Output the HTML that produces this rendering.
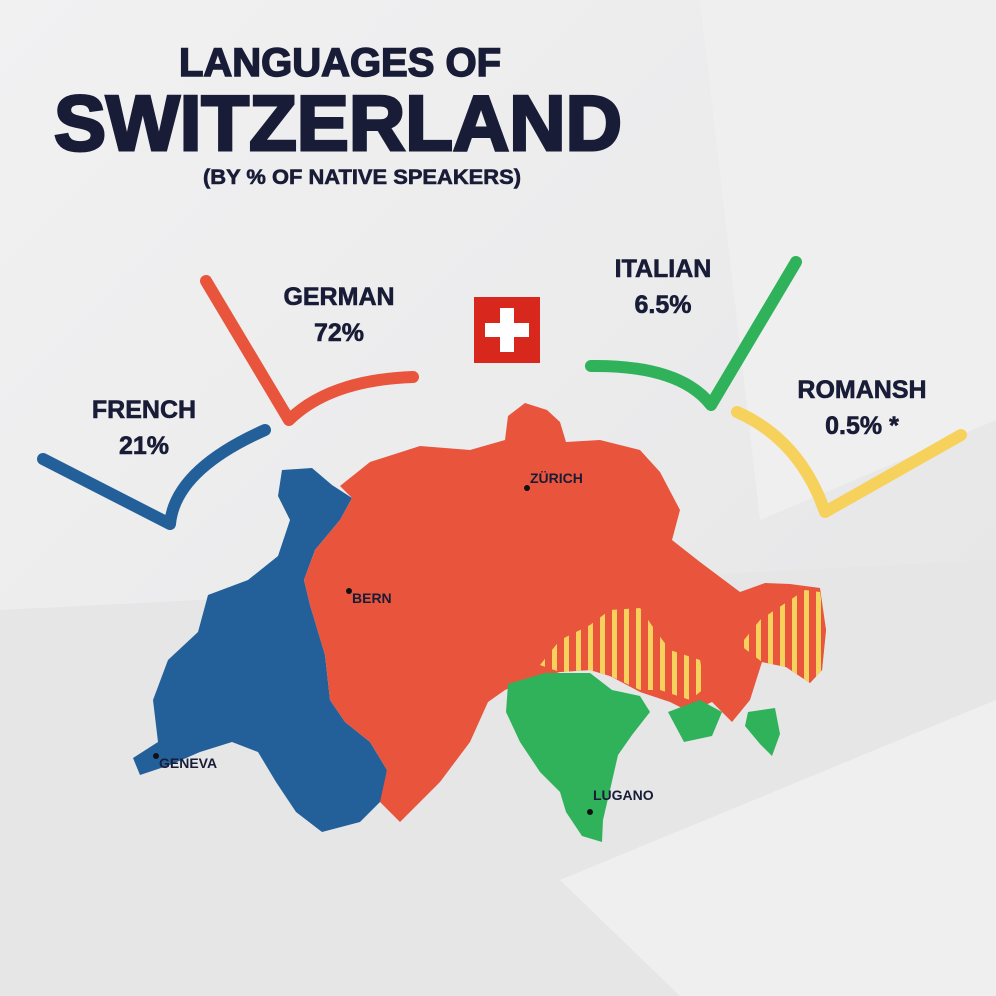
<!DOCTYPE html>
<html><head><meta charset="utf-8"><style>
html,body{margin:0;padding:0;}
body{width:996px;height:996px;overflow:hidden;background:#e9e9ea;font-family:"Liberation Sans",Arial,sans-serif;}
svg{display:block}
</style></head><body>
<svg id="chart" width="996" height="996" viewBox="0 0 996 996" xmlns="http://www.w3.org/2000/svg">
<defs>
<linearGradient id="bg" x1="0" y1="0" x2="1" y2="1">
<stop offset="0" stop-color="#f1f1f2"/><stop offset="0.5" stop-color="#ebebec"/><stop offset="1" stop-color="#e4e4e5"/></linearGradient>
<pattern id="stripes" width="12" height="12" patternUnits="userSpaceOnUse">
<rect width="12" height="12" fill="#e8553c"/><rect x="0" width="5" height="12" fill="#f6d25c"/></pattern>
</defs>
<rect width="996" height="996" fill="url(#bg)"/>
<polygon points="0,610 996,560 996,996 0,996" fill="#e6e6e7"/>
<polygon points="700,0 996,0 996,420 760,520" fill="#efeff0"/>
<polygon points="560,880 996,700 996,996 680,996" fill="#efeff0"/>

<g fill="#181c36" stroke="#181c36" font-weight="bold" text-anchor="middle">
<text x="340" y="76" font-size="40" stroke-width="1.5" textLength="322" lengthAdjust="spacingAndGlyphs">LANGUAGES OF</text>
<text x="338" y="150" font-size="78" stroke-width="3" textLength="568" lengthAdjust="spacingAndGlyphs">SWITZERLAND</text>
<text x="362" y="184" font-size="21" stroke-width="0.6" textLength="318" lengthAdjust="spacingAndGlyphs">(BY % OF NATIVE SPEAKERS)</text>
</g>

<g>
<rect x="474" y="297" width="66" height="66" fill="#d8271c"/>
<rect x="500" y="308" width="14" height="44" fill="#fff"/>
<rect x="485" y="323" width="44" height="14" fill="#fff"/>
</g>

<g fill="none" stroke-linecap="round" stroke-linejoin="round" stroke-width="12">
<path d="M43,459 L170,524 Q175,470 265,430" stroke="#23609a"/>
<path d="M206,281 L289,420 Q330,380 413,377" stroke="#e8553c"/>
<path d="M591,366 Q680,365 711,405 L796,262" stroke="#2fb25a"/>
<path d="M737,412 Q800,440 825,512 L961,435" stroke="#f6d25c"/>
</g>

<g>
<path fill="#23609a" d="M282,470 L312,468 L332,485 L352,498 L340,520 L315,550 L304,580 L310,605 L325,655 L330,700 L345,722 L370,742 L387,770 L382,800 L360,822 L322,832 L296,812 L276,782 L258,752 L232,742 L200,752 L170,765 L140,775 L133,758 L158,742 L153,700 L168,660 L198,632 L208,595 L248,580 L278,556 L290,520 L278,496 Z"/>
<path fill="#e8553c" d="M340,486 L370,462 L420,446 L470,450 L505,440 L508,416 L525,403 L547,410 L560,422 L566,442 L600,440 L640,450 L660,472 L680,510 L672,540 L700,562 L740,592 L765,583 L790,584 L820,588 L826,630 L822,670 L810,683 L786,667 L762,662 L750,700 L732,722 L712,702 L690,712 L670,702 L640,692 L610,676 L590,670 L560,672 L530,680 L505,690 L488,702 L470,742 L440,782 L420,802 L400,822 L380,802 L387,770 L370,742 L345,722 L330,700 L325,655 L310,605 L304,580 L315,550 L340,520 L352,498 Z"/>
<path fill="url(#stripes)" d="M540,665 L560,640 L590,625 L610,610 L640,608 L655,630 L670,650 L700,660 L705,688 L690,700 L660,690 L640,690 L610,676 L590,670 L560,672 Z"/>
<path fill="url(#stripes)" d="M740,645 L760,620 L790,600 L805,590 L820,592 L826,630 L822,670 L810,683 L786,667 L762,662 Z"/>
<path fill="#2fb25a" d="M508,684 L545,673 L590,673 L612,690 L640,696 L650,712 L632,735 L618,755 L610,790 L603,820 L602,842 L582,836 L566,812 L560,792 L540,772 L520,742 L506,712 Z"/>
<path fill="#2fb25a" d="M668,712 L700,700 L722,712 L712,736 L684,742 Z"/>
<path fill="#2fb25a" d="M748,712 L775,708 L780,734 L772,756 L760,744 L745,726 Z"/>
</g>

<g id="cities"></g>
<g id="labels"></g>
</svg>
<script>
const languages = ["FRENCH", "GERMAN", "ITALIAN", "ROMANSH"];
const percents = [21, 72, 6.5, 0.5];
const suffixes = ["", "", "", " *"];
const labelX = [144, 339, 663, 862];
const labelY = [418, 305, 277, 398];
const cityNames = ["ZÜRICH", "BERN", "GENEVA", "LUGANO"];
const NS = "http://www.w3.org/2000/svg";
const cityPos = [[527,488],[349,591],[156,756],[590,812]];
const lg = document.getElementById('labels');
languages.forEach((l,i)=>{
  const t1 = document.createElementNS(NS,'text');
  
  
  t1.setAttribute('x', labelX[i]); t1.setAttribute('y', labelY[i]);
  t1.setAttribute('text-anchor','middle'); t1.setAttribute('font-size','25');
  t1.setAttribute('font-weight','bold'); t1.setAttribute('fill','#181c36');
  t1.setAttribute('stroke','#181c36'); t1.setAttribute('stroke-width','0.6');
  t1.textContent = l; lg.appendChild(t1);
  const t2 = document.createElementNS(NS,'text');
  
  
  t2.setAttribute('x', labelX[i]); t2.setAttribute('y', labelY[i]+36);
  t2.setAttribute('text-anchor','middle'); t2.setAttribute('font-size','25');
  t2.setAttribute('font-weight','bold'); t2.setAttribute('fill','#181c36');
  t2.setAttribute('stroke','#181c36'); t2.setAttribute('stroke-width','0.6');
  t2.textContent = percents[i] + '%' + suffixes[i]; lg.appendChild(t2);
});
const cg = document.getElementById('cities');
cityNames.forEach((c,i)=>{
  const d = document.createElementNS(NS,'circle');
  
  
  d.setAttribute('cx', cityPos[i][0]); d.setAttribute('cy', cityPos[i][1]);
  d.setAttribute('r','3'); d.setAttribute('fill','#111');
  cg.appendChild(d);
  const t = document.createElementNS(NS,'text');
  
  
  t.setAttribute('x', cityPos[i][0]+3); t.setAttribute('y', cityPos[i][1]-5+ (i==1?17:(i==2?17:(i==3?-7:0))));
  t.setAttribute('font-size','14'); t.setAttribute('font-weight','bold'); t.setAttribute('fill','#181c36');
  t.textContent = c; cg.appendChild(t);
});
</script>
</body></html>
